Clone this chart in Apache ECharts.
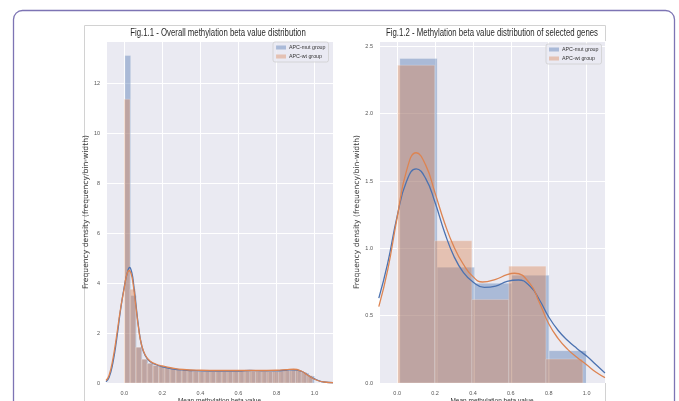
<!DOCTYPE html>
<html>
<head>
<meta charset="utf-8">
<title>Methylation beta value distribution</title>
<script src="https://cdn.jsdelivr.net/npm/echarts@6.0.0/dist/echarts.min.js"></script>
<style>
  html, body { margin: 0; padding: 0; background: #fff; }
  #chart { width: 679px; height: 401px; }
</style>
</head>
<body>
<div id="chart"></div>
<script>
var groupNames = ['APC-mut group', 'APC-wt group']
var titles = [
  'Fig.1.1 - Overall methylation beta value distribution',
  'Fig.1.2 - Methylation beta value distribution of selected genes'
]

// Fig.1.1 - histograms (equal width bins), density per bin
var leftMutStart = 0.0035
var leftMutWidth = 0.0302
var leftMutHeights = [13.1, 3.5, 1.43, 0.95, 0.8, 0.7, 0.66, 0.62, 0.58, 0.55, 0.52, 0.5, 0.48, 0.47, 0.46, 0.46, 0.47,
  0.47, 0.47, 0.47, 0.48, 0.52, 0.48, 0.47, 0.47, 0.46, 0.46, 0.48, 0.5, 0.52, 0.48, 0.4, 0.28]
var leftWtStart = 0.0
var leftWtWidth = 0.0300
var leftWtHeights = [11.35, 3.75, 1.43, 0.95, 0.78, 0.7, 0.67, 0.63, 0.58, 0.55, 0.52, 0.5, 0.48, 0.47, 0.47, 0.46, 0.47,
  0.46, 0.47, 0.47, 0.47, 0.47, 0.46, 0.47, 0.47, 0.46, 0.47, 0.48, 0.5, 0.52, 0.5, 0.43, 0.3]

// Fig.1.1 - kde curves [x, density]
var leftMutKde = [[-0.096, 0.05], [-0.08, 0.22], [-0.06, 0.8], [-0.04, 1.75], [-0.02, 2.9], [0.0, 3.85],
  [0.015, 4.38], [0.028, 4.62], [0.04, 4.4], [0.05, 3.9], [0.062, 3.1], [0.075, 2.25], [0.09, 1.55],
  [0.11, 1.1], [0.135, 0.86], [0.165, 0.74], [0.2, 0.65], [0.25, 0.57], [0.31, 0.52], [0.4, 0.49],
  [0.5, 0.48], [0.6, 0.48], [0.66, 0.5], [0.72, 0.49], [0.8, 0.49], [0.85, 0.51], [0.89, 0.53],
  [0.93, 0.47], [0.96, 0.34], [0.99, 0.2], [1.02, 0.1], [1.05, 0.04], [1.097, 0.01]]
var leftWtKde = [[-0.096, 0.1], [-0.08, 0.3], [-0.06, 0.95], [-0.04, 1.9], [-0.02, 2.95], [0.0, 3.8],
  [0.012, 4.3], [0.025, 4.5], [0.037, 4.35], [0.048, 3.88], [0.062, 3.0], [0.075, 2.2], [0.09, 1.55],
  [0.11, 1.12], [0.135, 0.88], [0.165, 0.76], [0.2, 0.68], [0.25, 0.6], [0.31, 0.54], [0.4, 0.51],
  [0.5, 0.5], [0.6, 0.5], [0.7, 0.5], [0.8, 0.51], [0.85, 0.53], [0.89, 0.55], [0.93, 0.48],
  [0.96, 0.33], [0.99, 0.19], [1.02, 0.09], [1.05, 0.04], [1.097, 0.01]]

// Fig.1.2 - histograms (selected genes)
var rightMutEdges = [0.014, 0.211, 0.408, 0.605, 0.802, 0.999]
var rightMutHeights = [2.41, 0.86, 0.74, 0.80, 0.24]
var rightWtEdges = [0.003, 0.198, 0.394, 0.589, 0.785, 0.980]
var rightWtHeights = [2.36, 1.056, 0.62, 0.868, 0.178]

var rightMutKde = [[-0.097, 0.63], [-0.05, 0.89], [0.0, 1.24], [0.05, 1.5], [0.1, 1.59], [0.15, 1.52],
  [0.2, 1.34], [0.25, 1.12], [0.3, 0.94], [0.35, 0.82], [0.4, 0.75], [0.46, 0.71], [0.52, 0.72],
  [0.58, 0.755], [0.64, 0.765], [0.7, 0.72], [0.75, 0.62], [0.8, 0.49], [0.85, 0.39], [0.9, 0.315],
  [0.95, 0.255], [1.0, 0.2], [1.05, 0.135], [1.097, 0.075]]
var rightWtKde = [[-0.097, 0.567], [-0.05, 0.84], [0.0, 1.23], [0.05, 1.58], [0.1, 1.71], [0.15, 1.62],
  [0.2, 1.41], [0.25, 1.19], [0.3, 1.01], [0.35, 0.88], [0.4, 0.79], [0.45, 0.75], [0.52, 0.77],
  [0.58, 0.805], [0.62, 0.815], [0.7, 0.74], [0.75, 0.6], [0.8, 0.44], [0.85, 0.33], [0.9, 0.25],
  [0.95, 0.19], [1.0, 0.135], [1.05, 0.08], [1.097, 0.04]]

var blue = '#4c72b0'
var orange = '#dd8452'
var sans = '"Liberation Sans", "DejaVu Sans", sans-serif'

function equalBins(start, width, heights) {
  return heights.map(function (h, i) {
    return [start + i * width, start + (i + 1) * width, h]
  })
}

function edgeBins(edges, heights) {
  return heights.map(function (h, i) {
    return [edges[i], edges[i + 1], h]
  })
}

function renderBin(params, api) {
  var p0 = api.coord([api.value(0), api.value(2)])
  var p1 = api.coord([api.value(1), 0])
  return {
    type: 'rect',
    shape: { x: p0[0], y: p0[1], width: p1[0] - p0[0], height: p1[1] - p0[1] },
    style: api.style({ stroke: 'rgba(255,255,255,0.35)', lineWidth: 0.6 })
  }
}

function histSeries(name, idx, color, data) {
  return {
    type: 'custom',
    name: name,
    xAxisIndex: idx,
    yAxisIndex: idx,
    renderItem: renderBin,
    encode: { x: [0, 1], y: 2 },
    itemStyle: { color: color },
    data: data
  }
}

function kdeSeries(name, idx, color, data) {
  return {
    type: 'line',
    name: name,
    xAxisIndex: idx,
    yAxisIndex: idx,
    showSymbol: false,
    smooth: 0.5,
    lineStyle: { color: color, width: 1.3 },
    itemStyle: { color: color },
    data: data
  }
}

function xAxisOpt(idx) {
  return {
    type: 'value',
    gridIndex: idx,
    min: -0.096,
    max: 1.097,
    splitNumber: 6,
    name: 'Mean methylation beta value',
    nameLocation: 'middle',
    nameGap: 15,
    nameMoveOverlap: false,
    nameTextStyle: { fontFamily: sans, fontSize: 6.5, color: '#333' },
    axisLine: { show: false },
    axisTick: { show: false },
    axisLabel: {
      fontFamily: sans, fontSize: 5.5, color: '#555', margin: 7,
      showMinLabel: false, showMaxLabel: false,
      formatter: function (v) { return v.toFixed(1) }
    },
    splitLine: { lineStyle: { color: '#ffffff', width: 1 } }
  }
}

function yAxisOpt(idx, max, split, digits, gap) {
  return {
    type: 'value',
    gridIndex: idx,
    min: 0,
    max: max,
    splitNumber: split,
    name: 'Frequency density (frequency/bin-width)',
    nameLocation: 'middle',
    nameGap: gap,
    nameTextStyle: { fontFamily: '"DejaVu Sans", sans-serif', fontSize: 7.6, color: '#333' },
    axisLine: { show: false },
    axisTick: { show: false },
    axisLabel: {
      fontFamily: sans, fontSize: 5.5, color: '#555', margin: 6,
      showMaxLabel: false,
      formatter: function (v) { return v.toFixed(digits) }
    },
    splitLine: { lineStyle: { color: '#ffffff', width: 1 } }
  }
}

function legendOpt(left, top) {
  return {
    data: groupNames,
    left: left,
    top: top,
    orient: 'vertical',
    icon: 'rect',
    itemWidth: 10,
    itemHeight: 4,
    itemGap: 4,
    padding: [3, 3, 3, 3],
    backgroundColor: 'rgba(234,234,242,0.8)',
    borderColor: '#cfcfcf',
    borderWidth: 0.8,
    borderRadius: 2,
    selectedMode: false,
    textStyle: { fontFamily: sans, fontSize: 5.3, color: '#333', padding: [0, 0, 0, -2] }
  }
}

function titleText(text, cx) {
  // the source figure is squeezed horizontally, so the titles are too
  return {
    type: 'text',
    x: cx,
    y: 33,
    scaleX: 0.78,
    silent: true,
    style: {
      text: text, align: 'center', verticalAlign: 'middle',
      fontFamily: sans, fontSize: 10, fill: '#2a2a2a'
    }
  }
}

var chart = echarts.init(document.getElementById('chart'), null, { renderer: 'canvas' })

chart.setOption({
  backgroundColor: '#ffffff',
  animation: false,
  graphic: [
    {
      type: 'rect',
      shape: { x: 13.5, y: 10.5, width: 661, height: 430, r: 9 },
      style: { fill: 'none', stroke: '#7d74b4', lineWidth: 1.3 },
      silent: true
    },
    {
      type: 'rect',
      shape: { x: 84.5, y: 25.5, width: 521, height: 400 },
      style: { fill: 'none', stroke: '#d2d2d2', lineWidth: 1 },
      silent: true
    },
    titleText(titles[0], 218),
    titleText(titles[1], 492)
  ],
  legend: [legendOpt(273, 42), legendOpt(546, 44)],
  grid: [
    { left: 106, top: 41, width: 227, height: 342, show: true, backgroundColor: '#eaeaf2', borderWidth: 0,
      containLabel: false, outerBoundsMode: 'none' },
    { left: 379, top: 41, width: 226, height: 342, show: true, backgroundColor: '#eaeaf2', borderWidth: 0,
      containLabel: false, outerBoundsMode: 'none' }
  ],
  xAxis: [xAxisOpt(0), xAxisOpt(1)],
  yAxis: [yAxisOpt(0, 13.68, 7, 0, 12), yAxisOpt(1, 2.54, 5, 1, 14)],
  series: [
    histSeries(groupNames[0], 0, 'rgba(76,114,176,0.4)', equalBins(leftMutStart, leftMutWidth, leftMutHeights)),
    kdeSeries('APC-mut kde', 0, blue, leftMutKde),
    histSeries(groupNames[1], 0, 'rgba(221,132,82,0.4)', equalBins(leftWtStart, leftWtWidth, leftWtHeights)),
    kdeSeries('APC-wt kde', 0, orange, leftWtKde),
    histSeries(groupNames[0], 1, 'rgba(76,114,176,0.4)', edgeBins(rightMutEdges, rightMutHeights)),
    kdeSeries('APC-mut kde', 1, blue, rightMutKde),
    histSeries(groupNames[1], 1, 'rgba(221,132,82,0.4)', edgeBins(rightWtEdges, rightWtHeights)),
    kdeSeries('APC-wt kde', 1, orange, rightWtKde)
  ]
})
</script>
</body>
</html>
